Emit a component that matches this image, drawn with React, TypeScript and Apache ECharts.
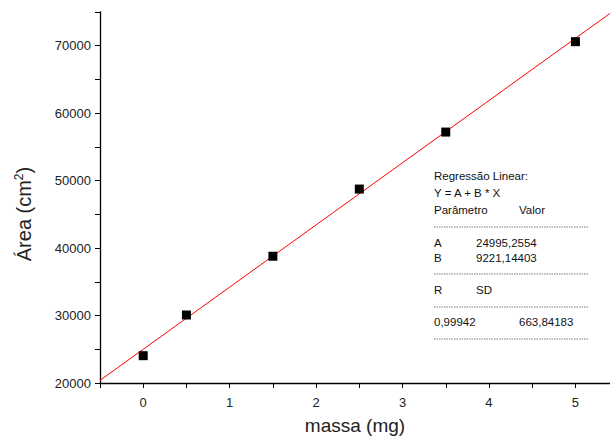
import React, { useEffect, useRef } from "react";
import * as echarts from "echarts";

const massa = [0, 0.5, 1.5, 2.5, 3.5, 5];
const area = [24050, 30080, 38790, 48750, 57200, 70600];
const fitA = 24995.2554;
const fitB = 9221.14403;
const xRange = [-0.5, 5.4];
const yRange = [20000, 75000];

const statsLines = [
  "Regressão Linear:",
  "Y = A + B * X",
];

export default function App() {
  const ref = useRef<HTMLDivElement>(null);
  useEffect(() => {
    if (!ref.current) return;
    const chart = echarts.init(ref.current, null, { renderer: "svg" });
    const font = "Liberation Sans";
    const fitLine = xRange.map((x) => [x, fitA + fitB * x]);
    const tx = (x: number, y: number, text: string) => ({
      type: "text",
      x,
      y,
      style: { text, font: `11.5px ${font}`, fill: "#111", textVerticalAlign: "middle" },
    });
    const dash = (y: number) => ({
      type: "line",
      shape: { x1: 434, y1: y, x2: 589, y2: y },
      style: { stroke: "#444", lineWidth: 0.7, lineDash: [1.5, 1] },
    });
    chart.setOption({
      animation: false,
      backgroundColor: "#fff",
      grid: { left: 100, right: 0, top: 12, bottom: 55, outerBoundsMode: "none", containLabel: false },
      xAxis: {
        type: "value",
        min: xRange[0],
        max: xRange[1],
        interval: 0.5,
        axisLine: { onZero: false, lineStyle: { color: "#000", width: 1.3 } },
        axisTick: { show: true, length: 5, lineStyle: { color: "#000" } },
        splitLine: { show: false },
        axisLabel: {
          color: "#222",
          fontFamily: font,
          fontSize: 13,
          margin: 13,
          formatter: (v: number) => (Number.isInteger(v) ? String(v) : ""),
        },
        name: "massa (mg)",
        nameLocation: "middle",
        nameGap: 33,
        nameTextStyle: { fontFamily: font, fontSize: 19, color: "#222" },
      },
      yAxis: {
        type: "value",
        min: yRange[0],
        max: yRange[1],
        interval: 5000,
        axisLine: { onZero: false, lineStyle: { color: "#000", width: 1.3 } },
        axisTick: { show: true, length: 5, lineStyle: { color: "#000" } },
        splitLine: { show: false },
        axisLabel: {
          color: "#222",
          fontFamily: font,
          fontSize: 13,
          margin: 9,
          formatter: (v: number) => (v % 10000 === 0 ? String(v) : ""),
        },
      },
      series: [
        {
          type: "line",
          data: fitLine,
          symbol: "none",
          lineStyle: { color: "#ff0000", width: 1 },
          silent: true,
          z: 1,
        },
        {
          type: "scatter",
          data: massa.map((x, i) => [x, area[i]]),
          symbol: "rect",
          symbolSize: 9,
          itemStyle: { color: "#000", opacity: 1 },
          z: 2,
        },
      ],
      graphic: [
        {
          type: "text",
          x: 24,
          y: 214,
          rotation: Math.PI / 2,
          style: {
            text: "{a|Área (cm}{s|2}{a|)}",
            align: "center",
            verticalAlign: "middle",
            rich: {
              a: { fontFamily: font, fontSize: 20, fill: "#222" },
              s: { fontFamily: font, fontSize: 12, fill: "#222", padding: [0, 0, 11, 0] },
            },
          },
        },
        tx(434, 176, statsLines[0]),
        tx(434, 193, statsLines[1]),
        tx(434, 210, "Parâmetro"),
        tx(519, 210, "Valor"),
        dash(227),
        tx(434, 243, "A"),
        tx(476, 243, "24995,2554"),
        tx(434, 258, "B"),
        tx(476, 258, "9221,14403"),
        dash(274),
        tx(434, 290, "R"),
        tx(476, 290, "SD"),
        dash(307),
        tx(434, 322, "0,99942"),
        tx(519, 322, "663,84183"),
        dash(339),
      ],
    });
    return () => chart.dispose();
  }, []);
  return <div ref={ref} style={{ width: 610, height: 438, position: "absolute", left: 0, top: 0 }} />;
}
